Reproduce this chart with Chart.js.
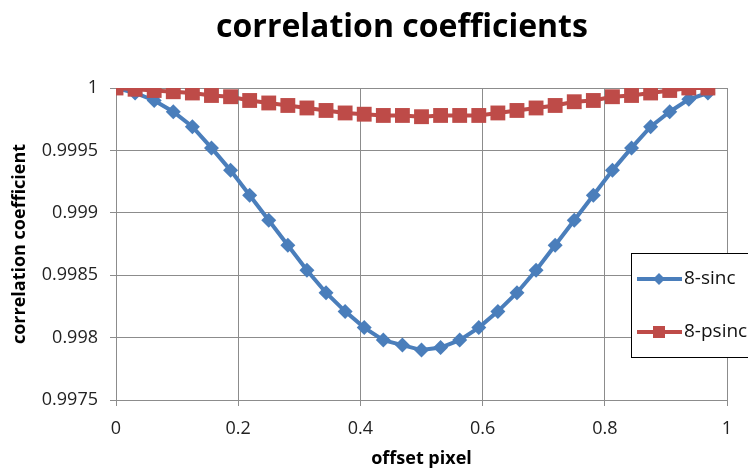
<!DOCTYPE html>
<html>
<head>
<meta charset="utf-8">
<title>correlation coefficients</title>
<script src="https://cdn.jsdelivr.net/npm/chart.js@4/dist/chart.umd.min.js"></script>
<style>
    body { margin: 0; background: #fff; }
    canvas { display: block; }
</style>
</head>
<body>
<canvas id="myChart" width="748" height="470"></canvas>
<script>
// offsets in pixel units (x axis)
var offsets = [0, 0.03125, 0.0625, 0.09375, 0.125, 0.15625, 0.1875, 0.21875,
    0.25, 0.28125, 0.3125, 0.34375, 0.375, 0.40625, 0.4375, 0.46875,
    0.5, 0.53125, 0.5625, 0.59375, 0.625, 0.65625, 0.6875, 0.71875,
    0.75, 0.78125, 0.8125, 0.84375, 0.875, 0.90625, 0.9375, 0.96875];

var sinc8 = [1.0, 0.99996, 0.9999, 0.99981, 0.99969, 0.99952, 0.99934, 0.99914,
    0.99894, 0.99874, 0.99854, 0.99836, 0.99821, 0.99808, 0.99798, 0.99794,
    0.9979, 0.99792, 0.99798, 0.99808, 0.99821, 0.99836, 0.99854, 0.99874,
    0.99894, 0.99914, 0.99934, 0.99952, 0.99969, 0.99981, 0.99991, 0.99996];

var psinc8 = [1.0, 0.99999, 0.99998, 0.99997, 0.99996, 0.99994, 0.99993, 0.9999,
    0.99988, 0.99986, 0.99984, 0.99982, 0.9998, 0.99979, 0.99978, 0.99978,
    0.99977, 0.99978, 0.99978, 0.99978, 0.9998, 0.99982, 0.99984, 0.99986,
    0.99989, 0.9999, 0.99993, 0.99994, 0.99996, 0.99998, 1.0, 1.0];

var seriesNames = ["8-sinc", "8-psinc"];
var blue = "#4A7EBB";
var red = "#BE4B48";

function toPoints(xs, ys) {
    var pts = [];
    for (var i = 0; i < xs.length; i++) {
        pts.push({ x: xs[i], y: ys[i] });
    }
    return pts;
}

// Title drawn a bit right of centre like the original
var titlePlugin = {
    id: "excelTitle",
    afterDraw: function (chart) {
        var ctx = chart.ctx;
        ctx.save();
        ctx.font = "bold 32px 'Open Sans'";
        ctx.fillStyle = "#000";
        ctx.textAlign = "center";
        ctx.textBaseline = "alphabetic";
        ctx.fillText("correlation coefficients", 402, 37);
        ctx.restore();
    }
};

// Boxed legend sitting inside the plot area at the right
var legendPlugin = {
    id: "excelLegend",
    afterDraw: function (chart) {
        var ctx = chart.ctx;
        var bx = 631.5, by = 253.5;
        ctx.save();
        ctx.fillStyle = "#fff";
        ctx.fillRect(bx, by, 200, 104);
        ctx.strokeStyle = "#000";
        ctx.lineWidth = 1;
        ctx.strokeRect(bx, by, 200, 104);

        var rows = [
            { y: 279, color: blue, style: "diamond" },
            { y: 332, color: red, style: "square" }
        ];
        for (var i = 0; i < rows.length; i++) {
            var r = rows[i];
            ctx.strokeStyle = r.color;
            ctx.fillStyle = r.color;
            ctx.lineWidth = 4;
            ctx.beginPath();
            ctx.moveTo(637, r.y);
            ctx.lineTo(682, r.y);
            ctx.stroke();
            ctx.beginPath();
            if (r.style == "diamond") {
                ctx.moveTo(659, r.y - 6);
                ctx.lineTo(665, r.y);
                ctx.lineTo(659, r.y + 6);
                ctx.lineTo(653, r.y);
                ctx.closePath();
            } else {
                ctx.rect(653, r.y - 6, 12, 12);
            }
            ctx.fill();
            ctx.fillStyle = "#111";
            ctx.font = "19px 'Open Sans'";
            ctx.textAlign = "left";
            ctx.textBaseline = "middle";
            ctx.fillText(seriesNames[i], 684, r.y);
        }
        ctx.restore();
    }
};

var data = {
    datasets: [
        {
            label: seriesNames[0],
            data: toPoints(offsets, sinc8),
            borderColor: blue,
            backgroundColor: blue,
            borderWidth: 4,
            pointStyle: "rectRot",
            pointRadius: 7.5,
            pointBorderWidth: 0,
            tension: 0,
            order: 1
        },
        {
            label: seriesNames[1],
            data: toPoints(offsets, psinc8),
            borderColor: red,
            backgroundColor: red,
            borderWidth: 4,
            pointStyle: "rect",
            pointRadius: 10.5,
            pointBorderWidth: 0,
            tension: 0,
            order: 0
        }
    ]
};

var gridColor = "#8c8c8c";

var config = {
    type: "line",
    data: data,
    options: {
        responsive: false,
        animation: false,
        layout: { padding: { top: 88, right: 21, left: 0, bottom: 0 } },
        plugins: {
            legend: { display: false },
            title: { display: false },
            tooltip: { enabled: false }
        },
        scales: {
            x: {
                type: "linear",
                min: 0,
                max: 1,
                afterFit: function (scale) { scale.height = 70; },
                ticks: {
                    stepSize: 0.2,
                    padding: 12,
                    color: "#222",
                    font: { family: "'Open Sans'", size: 18 },
                    callback: function (v) { return String(+v.toFixed(4)); }
                },
                grid: { color: gridColor, tickLength: 6, lineWidth: 1 },
                border: { color: gridColor },
                title: {
                    display: true,
                    text: "offset pixel",
                    color: "#000",
                    font: { family: "'Open Sans'", size: 18, weight: "bold" },
                    padding: { top: 0, bottom: 0 }
                }
            },
            y: {
                min: 0.9975,
                max: 1,
                afterFit: function (scale) { scale.width = 116; },
                ticks: {
                    stepSize: 0.0005,
                    padding: 12,
                    color: "#222",
                    font: { family: "'Open Sans'", size: 18 },
                    callback: function (v) { return String(+v.toFixed(4)); }
                },
                grid: { color: gridColor, tickLength: 6, lineWidth: 1 },
                border: { color: gridColor },
                title: {
                    display: true,
                    text: "correlation coefficient",
                    color: "#000",
                    font: { family: "'Open Sans'", size: 18, weight: "bold" },
                    padding: { top: 9, bottom: 0 }
                }
            }
        }
    },
    plugins: [titlePlugin, legendPlugin]
};

var myChart = new Chart(document.getElementById("myChart"), config);
</script>
</body>
</html>
